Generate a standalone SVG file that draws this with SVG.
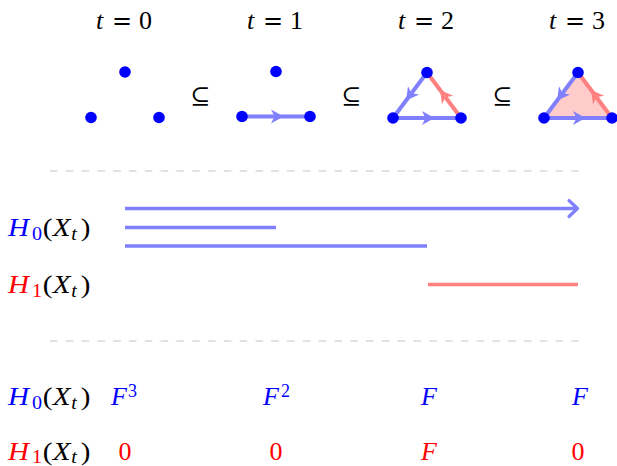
<svg xmlns="http://www.w3.org/2000/svg" width="617" height="466" viewBox="0 0 617 466">
<style>
text{font-family:"Liberation Serif","DejaVu Serif",serif;font-size:26px;fill:#000}
.it{font-style:italic}
.sub{font-size:18px}
.b{fill:#0000ff}
.r{fill:#ff0000}
.eq{font-family:"DejaVu Serif",serif;font-size:24px}
.dot{fill:#0000ff}
.eb{stroke:#8080ff;stroke-width:4;stroke-linecap:round;fill:none}
.er{stroke:#ff8080;stroke-width:4;stroke-linecap:round;fill:none}
.ahb{fill:#8080ff}
.ahr{fill:#ff8080}
.dash{stroke:#d9d9d9;stroke-width:1.4;stroke-dasharray:7.6 8.2;fill:none}
.bar{stroke:#8080ff;stroke-width:3.6;fill:none}
.barr{stroke:#ff8080;stroke-width:3.6;fill:none}
.subset{font-family:"DejaVu Serif",serif;font-size:24px}
</style>
<defs>
<path id="ah" d="M6.5,0 L-6,-7 L-2.5,0 L-6,7 Z"/>
</defs>

<g id="titles">
<text y="29"><tspan class="it" x="96">t</tspan><tspan class="eq" x="112">=</tspan><tspan x="139">0</tspan></text>
<text y="29"><tspan class="it" x="247">t</tspan><tspan class="eq" x="263">=</tspan><tspan x="290">1</tspan></text>
<text y="29"><tspan class="it" x="398">t</tspan><tspan class="eq" x="414">=</tspan><tspan x="441">2</tspan></text>
<text y="29"><tspan class="it" x="549">t</tspan><tspan class="eq" x="565">=</tspan><tspan x="592">3</tspan></text>
</g>

<g id="subset-signs">
<text class="subset" x="200" y="104" text-anchor="middle">⊆</text>
<text class="subset" x="351" y="104" text-anchor="middle">⊆</text>
<text class="subset" x="502" y="104" text-anchor="middle">⊆</text>
</g>

<g id="complex-t0">
<circle class="dot" cx="125" cy="72" r="5.8"/>
<circle class="dot" cx="91" cy="117.5" r="5.8"/>
<circle class="dot" cx="159" cy="117.5" r="5.8"/>
</g>

<g id="complex-t1">
<line class="eb" x1="242" y1="116.5" x2="310" y2="116.5"/>
<use href="#ah" class="ahb" transform="translate(277,116.5)"/>
<circle class="dot" cx="276" cy="71.5" r="5.8"/>
<circle class="dot" cx="242" cy="116.5" r="5.8"/>
<circle class="dot" cx="310" cy="116.5" r="5.8"/>
</g>

<g id="complex-t2">
<line class="eb" x1="393" y1="118" x2="461" y2="118"/>
<line class="eb" x1="427" y1="72.5" x2="393" y2="118"/>
<line class="er" x1="461" y1="118" x2="427" y2="72.5"/>
<use href="#ah" class="ahb" transform="translate(428,118)"/>
<use href="#ah" class="ahb" transform="translate(410,95.2) rotate(126.8)"/>
<use href="#ah" class="ahr" transform="translate(444,95.2) rotate(233.2)"/>
<circle class="dot" cx="427" cy="72.5" r="5.8"/>
<circle class="dot" cx="393" cy="118" r="5.8"/>
<circle class="dot" cx="461" cy="118" r="5.8"/>
</g>

<g id="complex-t3">
<polygon points="578,72.5 544,118 612,118" fill="#ffcccc"/>
<line class="eb" x1="544" y1="118" x2="612" y2="118"/>
<line class="eb" x1="578" y1="72.5" x2="544" y2="118"/>
<line class="er" x1="612" y1="118" x2="578" y2="72.5"/>
<use href="#ah" class="ahb" transform="translate(579,118)"/>
<use href="#ah" class="ahb" transform="translate(561,95.2) rotate(126.8)"/>
<use href="#ah" class="ahr" transform="translate(595,95.2) rotate(233.2)"/>
<circle class="dot" cx="578" cy="72.5" r="5.8"/>
<circle class="dot" cx="544" cy="118" r="5.8"/>
<circle class="dot" cx="612" cy="118" r="5.8"/>
</g>

<g id="separators">
<line class="dash" x1="50" y1="171" x2="580" y2="171"/>
<line class="dash" x1="50" y1="341" x2="580" y2="341"/>
</g>

<g id="barcode-labels">
<text transform="translate(8,236) scale(1.12,1)"><tspan class="it b" x="0" y="0">H</tspan><tspan class="sub b" x="21.5" y="3.5">0</tspan><tspan x="31" y="0">(</tspan><tspan class="it" x="40" y="0">X</tspan><tspan class="sub it" x="56.5" y="4">t</tspan><tspan x="65" y="0">)</tspan></text>
<text transform="translate(8,293) scale(1.12,1)"><tspan class="it r" x="0" y="0">H</tspan><tspan class="sub r" x="21.5" y="3.5">1</tspan><tspan x="31" y="0">(</tspan><tspan class="it" x="40" y="0">X</tspan><tspan class="sub it" x="56.5" y="4">t</tspan><tspan x="65" y="0">)</tspan></text>
</g>

<g id="barcode">
<line class="bar" x1="125" y1="208.5" x2="577" y2="208.5"/>
<path d="M569,200.5 L577.5,208.5 L569,216.5" stroke="#8080ff" stroke-width="3.2" fill="none" stroke-linecap="round" stroke-linejoin="round"/>
<line class="bar" x1="125" y1="227.5" x2="276" y2="227.5"/>
<line class="bar" x1="125" y1="246" x2="427" y2="246"/>
<line class="barr" x1="428" y1="284.5" x2="578" y2="284.5"/>
</g>

<g id="homology-labels">
<text transform="translate(8,405) scale(1.12,1)"><tspan class="it b" x="0" y="0">H</tspan><tspan class="sub b" x="21.5" y="3.5">0</tspan><tspan x="31" y="0">(</tspan><tspan class="it" x="40" y="0">X</tspan><tspan class="sub it" x="56.5" y="4">t</tspan><tspan x="65" y="0">)</tspan></text>
<text transform="translate(8,460) scale(1.12,1)"><tspan class="it r" x="0" y="0">H</tspan><tspan class="sub r" x="21.5" y="3">1</tspan><tspan x="31" y="0">(</tspan><tspan class="it" x="40" y="0">X</tspan><tspan class="sub it" x="56.5" y="3">t</tspan><tspan x="65" y="0">)</tspan></text>
</g>

<g id="homology-values">
<text class="b" y="405"><tspan class="it" x="111">F</tspan><tspan class="sub" x="128" y="397">3</tspan></text>
<text class="b" y="405"><tspan class="it" x="263">F</tspan><tspan class="sub" x="281" y="397">2</tspan></text>
<text class="b it" x="421" y="405">F</text>
<text class="b it" x="572" y="405">F</text>
<text class="r" x="125" y="460" text-anchor="middle">0</text>
<text class="r" x="276" y="460" text-anchor="middle">0</text>
<text class="r it" x="421" y="460">F</text>
<text class="r" x="578" y="460" text-anchor="middle">0</text>
</g>
</svg>
